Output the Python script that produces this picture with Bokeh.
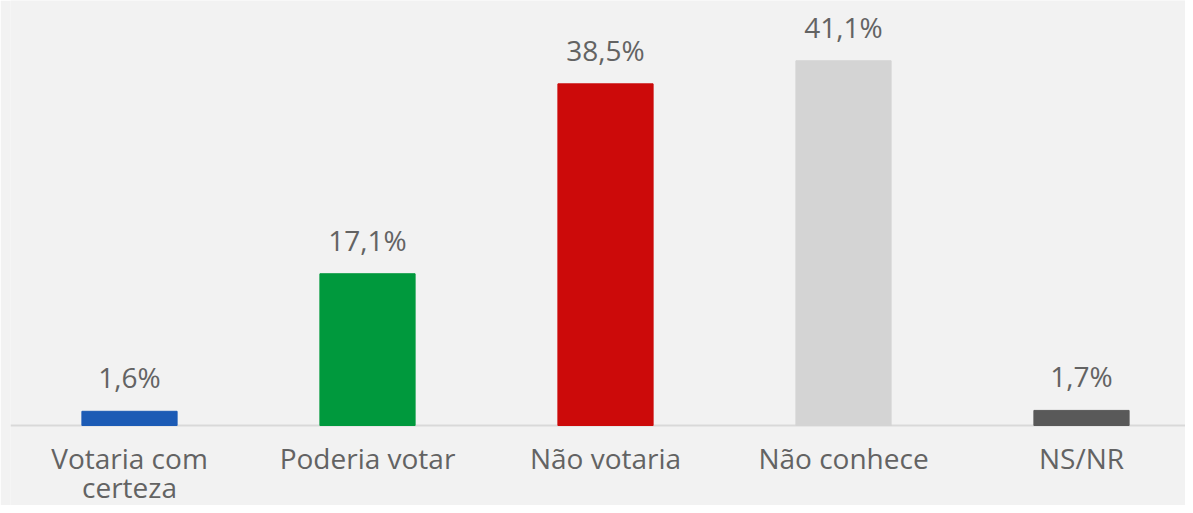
from bokeh.plotting import figure
from bokeh.models import ColumnDataSource, Range1d, Span
from bokeh.core.properties import value
from bokeh.embed import file_html
from bokeh.resources import INLINE

categories = ["Votaria com\ncerteza", "Poderia votar", "Não votaria", "Não conhece", "NS/NR"]
values = [1.6, 17.1, 38.5, 41.1, 1.7]
labels = ["1,6%", "17,1%", "38,5%", "41,1%", "1,7%"]
colors = ["#1c5bb5", "#00993d", "#cc0a0a", "#d4d4d4", "#595959"]

xs = list(range(len(categories)))
line1 = [c.split("\n")[0] for c in categories]
line2 = [c.split("\n")[1] if "\n" in c else "" for c in categories]
src = ColumnDataSource(dict(x=xs, top=values, label=labels, color=colors,
                            l1=line1, l2=line2, zero=[0] * len(xs)))

BG = "#f2f2f2"
TXT = "#636363"
FONT = "Open Sans"
PX = 8.874  # pixels per percentage point
BASE = 425  # pixel row of the zero line

p = figure(width=1185, height=505, output_backend="svg", toolbar_location=None,
           x_range=Range1d(-0.5, -0.5 + 1175 / 238),
           y_range=Range1d(-(505 - BASE) / PX, BASE / PX),
           min_border_left=10, min_border_right=0, min_border_top=0, min_border_bottom=0)
p.background_fill_color = BG
p.border_fill_color = BG
p.outline_line_color = None
p.grid.visible = False
p.xaxis.visible = False
p.yaxis.visible = False

p.add_layout(Span(location=0, dimension="width", line_color="#d9d9d9", line_width=2, level="underlay"))
p.vbar(x="x", top="top", bottom=0, width=0.4, color="color", source=src)

common = dict(source=src, text_align="center", text_baseline="alphabetic",
              text_font=value(FONT), text_font_size="28px", text_color=TXT)
p.text(x="x", y="top", text="label", y_offset=-34, **common)
p.text(x="x", y="zero", text="l1", y_offset=32, **common)
p.text(x="x", y="zero", text="l2", y_offset=61, **common)

open("out.html", "w").write(file_html(p, INLINE))
